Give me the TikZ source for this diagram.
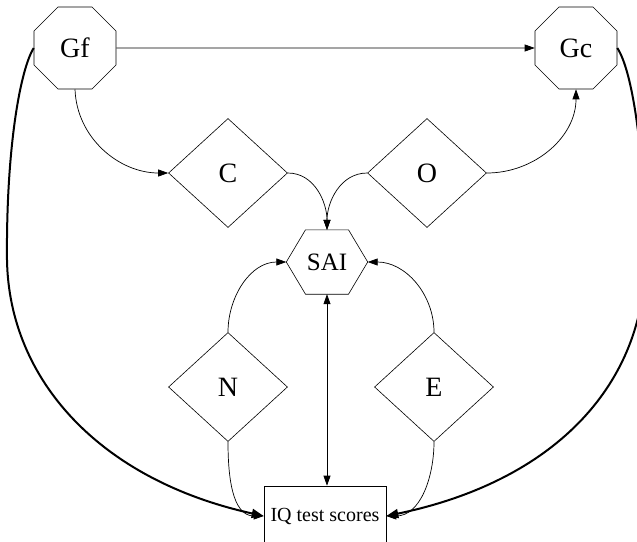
\documentclass[tikz,border=0pt]{standalone}
\usepackage{fontspec}
\setmainfont{Liberation Serif}
\usetikzlibrary{shapes.geometric,arrows.meta}
\begin{document}
\begin{tikzpicture}[x=1pt,y=1pt,
  octo/.style={draw,line width=0.6pt,regular polygon,regular polygon sides=8,minimum size=88.7pt,inner sep=0pt,font=\fontsize{28}{30}\selectfont},
  dia/.style={draw,line width=0.6pt,diamond,aspect=1.1,minimum width=119pt,minimum height=109pt,inner sep=0pt,font=\fontsize{28}{30}\selectfont},
  thin/.style={line width=0.7pt,-{Triangle[length=10pt,width=7pt]}},
  thick/.style={line width=2pt,-{Triangle[length=12pt,width=9pt]}}]
\useasboundingbox (0,0) rectangle (637,-541);
\node[octo] (Gf) at (75,-48) {Gf};
\node[octo] (Gc) at (576,-48) {Gc};
\node[dia] (C) at (228,-173) {C};
\node[dia] (O) at (427,-173) {O};
\node[dia] (N) at (228,-387) {N};
\node[dia] (E) at (434,-387) {E};
\node[minimum width=81pt,minimum height=64pt,inner sep=0pt,font=\fontsize{25}{27}\selectfont] (S) at (327,-262) {SAI};
\draw[line width=0.6pt] (S.west) -- ([xshift=-21.5pt]S.north) -- ([xshift=21.5pt]S.north) -- (S.east) -- ([xshift=21.5pt]S.south) -- ([xshift=-21.5pt]S.south) -- cycle;
\node[draw,line width=0.6pt,minimum width=122pt,minimum height=60pt,inner sep=0pt,font=\fontsize{20}{22}\selectfont] (IQ) at (325,-516) {IQ test scores};
% straight
\draw[thin] (Gf.east) -- (Gc.west);
\draw[thin] (Gf.south) to[out=-88,in=180] (C.west);
\draw[thin] (C.east) to[out=0,in=90] (S.north);
\draw[thin] (O.west) to[out=180,in=90] (S.north);
\draw[thin] (O.east) to[out=0,in=-90] (Gc.south);
\draw[thin] (N.north) to[out=90,in=180] (S.west);
\draw[thin] (E.north) to[out=90,in=0] (S.east);
\draw[thin,{Triangle[length=10pt,width=7pt]}-{Triangle[length=10pt,width=7pt]}] (S.south) -- (S.south |- IQ.north);
\draw[thin] (N.south) to[out=-90,in=180] (IQ.west);
\draw[thin] (E.south) to[out=-90,in=0] (IQ.east);
% thick outer curves
\draw[thick] (Gf.west) .. controls (20,-70) and (6,-150) .. (7,-260) .. controls (9,-380) and (100,-480) .. (IQ.west);
\draw[thick] (Gc.east) .. controls (632,-70) and (645,-150) .. (645,-260) .. controls (645,-380) and (560,-480) .. (IQ.east);
\end{tikzpicture}
\end{document}
